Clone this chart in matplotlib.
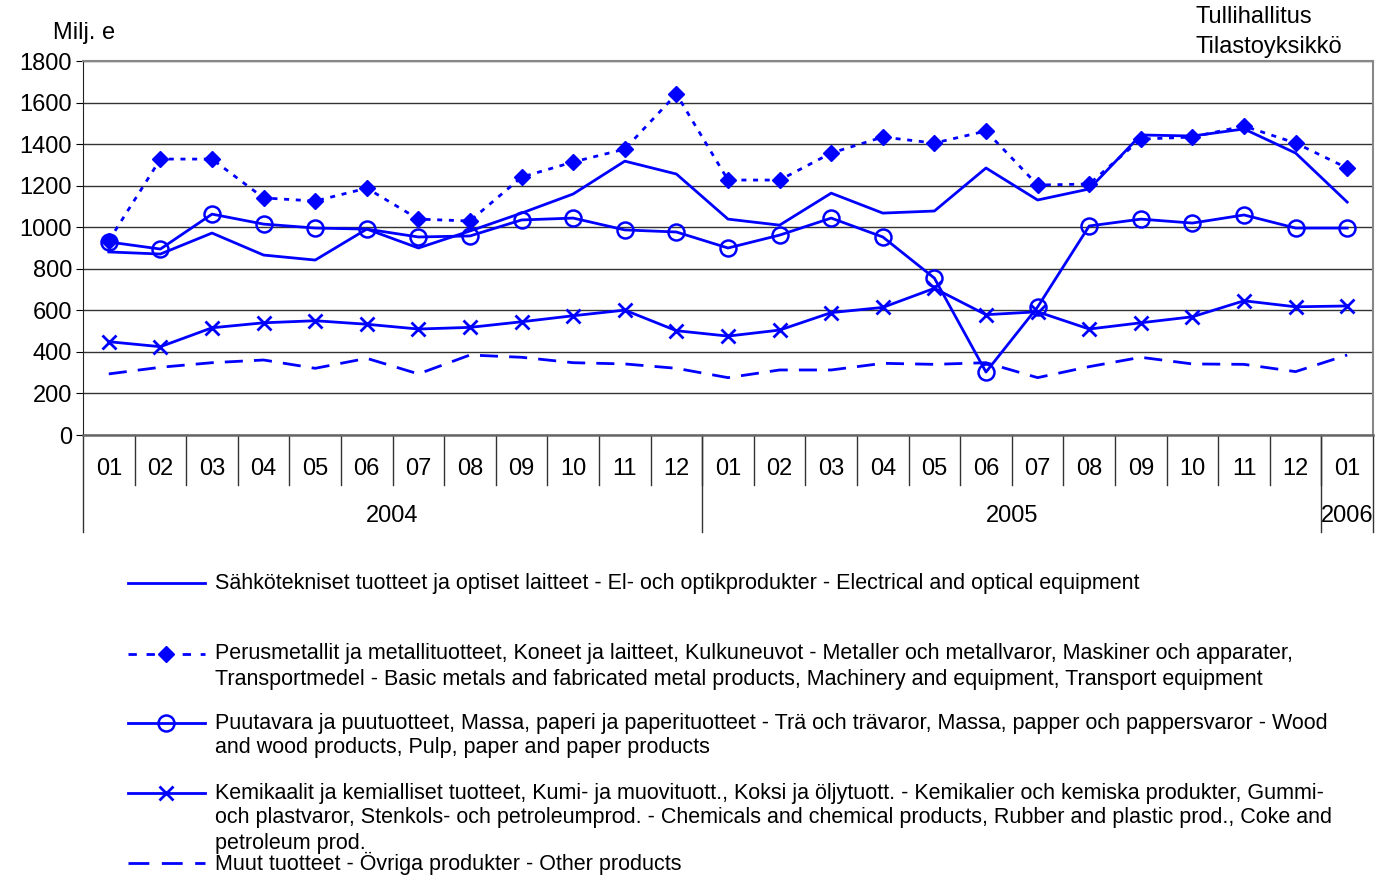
import matplotlib.pyplot as plt
from matplotlib.lines import Line2D

plt.rcParams['font.family'] = ['Liberation Sans', 'DejaVu Sans']

months = ["01", "02", "03", "04", "05", "06", "07", "08", "09", "10", "11", "12",
          "01", "02", "03", "04", "05", "06", "07", "08", "09", "10", "11", "12",
          "01"]
years = ["2004", "2005", "2006"]
year_lengths = [12, 12, 1]

electrical = [881, 871, 972, 866, 842, 991, 900, 982, 1068, 1160, 1318, 1256,
              1039, 1010, 1164, 1068, 1078, 1285, 1131, 1184, 1444, 1439, 1473, 1357,
              1121]
metals = [935, 1328, 1328, 1141, 1126, 1188, 1039, 1030, 1241, 1314, 1376, 1641,
          1227, 1227, 1357, 1434, 1405, 1463, 1203, 1208, 1424, 1434, 1487, 1405,
          1285]
wood = [929, 895, 1063, 1015, 996, 991, 953, 958, 1035, 1044, 987, 977,
        900, 962, 1044, 953, 755, 303, 616, 1006, 1039, 1020, 1059, 996,
        996]
chemicals = [449, 425, 516, 540, 550, 533, 510, 518, 545, 574, 601, 502,
             476, 505, 589, 614, 706, 579, 593, 510, 540, 569, 646, 617,
             621]
other = [294, 326, 348, 361, 321, 369, 294, 385, 374, 348, 342, 321,
         276, 313, 313, 345, 340, 348, 276, 329, 374, 342, 340, 305,
         385]

labels = [
    ["Sähkötekniset tuotteet ja optiset laitteet - El- och optikprodukter - Electrical and optical equipment"],
    ["Perusmetallit ja metallituotteet, Koneet ja laitteet, Kulkuneuvot - Metaller och metallvaror, Maskiner och apparater,",
     "Transportmedel - Basic metals and fabricated metal products, Machinery and equipment, Transport equipment"],
    ["Puutavara ja puutuotteet, Massa, paperi ja paperituotteet - Trä och trävaror, Massa, papper och pappersvaror - Wood",
     "and wood products, Pulp, paper and paper products"],
    ["Kemikaalit ja kemialliset tuotteet, Kumi- ja muovituott., Koksi ja öljytuott. - Kemikalier och kemiska produkter, Gummi-",
     "och plastvaror, Stenkols- och petroleumprod. - Chemicals and chemical products, Rubber and plastic prod., Coke and",
     "petroleum prod."],
    ["Muut tuotteet - Övriga produkter - Other products"],
]

BLUE = "#0000FF"
W, H = 1389, 876
fig = plt.figure(figsize=(W / 100, H / 100), dpi=100)
ax = fig.add_axes([83 / W, 1 - 435 / H, (1373 - 83) / W, (435 - 61) / H])

x = [i + 0.5 for i in range(len(months))]
styles = [
    dict(linestyle="-", marker=None),
    dict(linestyle=(0, (1.8, 2.4)), marker="D", markersize=8.5),
    dict(linestyle="-", marker="o", markersize=11.5, fillstyle="none", markeredgewidth=1.8),
    dict(linestyle="-", marker="x", markersize=10, markeredgewidth=2),
    dict(linestyle=(0, (6.5, 4)), marker=None),
]
# selitteen viivatyylit (Excelissä hieman pidemmät katkoviivat)
legend_ls = ["-", (0, (3, 3.5)), "-", "-", (0, (7.5, 4.5))]

series = [electrical, metals, wood, chemicals, other]
for vals, st in zip(series, styles):
    ax.plot(x, vals, color=BLUE, linewidth=2, **st)

ax.set_xlim(0, len(months))
ax.set_ylim(0, 1800)
ax.set_yticks(range(0, 1801, 200))
ax.tick_params(axis="y", labelsize=17, length=5, direction="out", pad=3)
ax.set_xticks([])
ax.grid(axis="y", color="#333333", linewidth=1)
ax.set_axisbelow(True)
for side in ["top", "right"]:
    ax.spines[side].set_color("#888888")
    ax.spines[side].set_linewidth(1.5)
ax.spines["bottom"].set_color("#666666")
ax.spines["bottom"].set_linewidth(1.8)
ax.spines["left"].set_color("#222222")

# kaksitasoinen luokka-akseli
tr = ax.get_xaxis_transform()
axh = 435 - 61
for i, m in enumerate(months):
    ax.text(i + 0.5, -34 / axh, m, transform=tr, ha="center", va="center",
            fontsize=17, clip_on=False)
    if i > 0:
        ax.plot([i, i], [0, -50 / axh], transform=tr, color="#333333",
                linewidth=1, clip_on=False)
start = 0
for y, n in zip(years, year_lengths):
    ax.text(start + n / 2, -81 / axh, y, transform=tr, ha="center", va="center",
            fontsize=17, clip_on=False)
    ax.plot([start, start], [0, -97 / axh], transform=tr, color="#333333",
            linewidth=1, clip_on=False)
    start += n
ax.plot([start, start], [0, -97 / axh], transform=tr, color="#333333",
        linewidth=1, clip_on=False)

fig.text(53 / W, 1 - 33 / H, "Milj. e", fontsize=17, ha="left", va="center")
fig.text(1195 / W, 1 - 17 / H, "Tullihallitus", fontsize=17, ha="left", va="center")
fig.text(1195 / W, 1 - 47 / H, "Tilastoyksikkö", fontsize=17, ha="left", va="center")

# selite
rows = [583, 654, 723, 793, 863]
for lines, st, ls, y0 in zip(labels, styles, legend_ls, rows):
    yy = 1 - y0 / H
    fig.add_artist(Line2D([128 / W, 205 / W], [yy, yy], color=BLUE, linewidth=2,
                          linestyle=ls))
    if st["marker"]:
        fig.add_artist(Line2D([166 / W], [yy], color=BLUE, linestyle="none",
                              **{k: v for k, v in st.items() if k != "linestyle"}))
    for j, t in enumerate(lines):
        fig.text(215 / W, 1 - (y0 + 25 * j) / H, t, fontsize=15.5,
                 ha="left", va="center")

fig.savefig("out.png", dpi=100)
